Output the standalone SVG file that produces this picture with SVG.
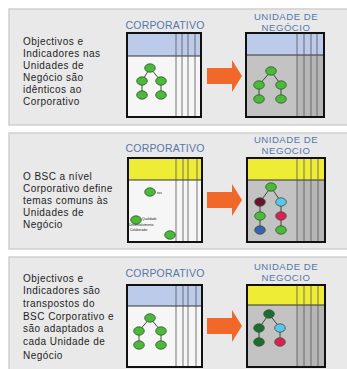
<svg xmlns="http://www.w3.org/2000/svg" width="347" height="369" viewBox="0 0 347 369">
<style>
.panel{fill:#e9e9e9;stroke:#cfcfcf;stroke-width:1.5}
.desc{font-family:"Liberation Sans",Arial,sans-serif;font-size:10px;letter-spacing:0.45px;fill:#1e1e1e}
.title{font-family:"Liberation Sans",Arial,sans-serif;font-size:10.5px;fill:#5577aa;text-anchor:middle;letter-spacing:0.2px}
.bt{font-family:"Liberation Sans",Arial,sans-serif;font-size:9.6px;fill:#5577aa;text-anchor:middle;letter-spacing:0.5px}
.box{fill:none;stroke:#111;stroke-width:2}
.col{stroke:#555;stroke-width:0.8}
.hdrline{stroke:#333;stroke-width:1}
.blue{fill:#bccbea}
.yellow{fill:#eeec34}
.corpbody{fill:#f6f6f6}
.bubody{fill:#c3c3c3}
.bucols{fill:#b6b6b6}
.edge{stroke:#333;stroke-width:0.9;fill:none}
.n{stroke:#2c5a22;stroke-width:0.8}
.g{fill:#4cb83c}
.dg{fill:#1f6b34}
.mar{fill:#6a0f36}
.lb{fill:#5cc4f2}
.cr{fill:#e21c5c}
.bl{fill:#3c5fb6}
.tiny{font-family:"Liberation Sans",Arial,sans-serif;font-size:3.2px;fill:#222}
.arrow{fill:#f0682a}
</style>
<rect width="347" height="369" fill="#ffffff"/>

<!-- Panel 1 -->
<g id="panel1">
<rect class="panel" x="9" y="9" width="345" height="116"/>
<text class="desc" x="23" y="45">Objectivos e</text>
<text class="desc" x="23" y="57">Indicadores nas</text>
<text class="desc" x="23" y="69">Unidades de</text>
<text class="desc" x="23" y="81">Negócio são</text>
<text class="desc" x="23" y="93">idênticos ao</text>
<text class="desc" x="23" y="105">Corporativo</text>
</g>
<g id="p1-corp">
<text class="title" x="165" y="29">CORPORATIVO</text>
<rect class="corpbody" x="127" y="33" width="74" height="84"/>
<rect class="blue" x="127" y="33" width="74" height="23"/>
<line class="hdrline" x1="127" y1="56" x2="201" y2="56"/>
<line class="col" x1="176" y1="33" x2="176" y2="117"/>
<line class="col" x1="182" y1="33" x2="182" y2="117"/>
<line class="col" x1="188" y1="33" x2="188" y2="117"/>
<line class="col" x1="195" y1="33" x2="195" y2="117"/>
<rect class="box" x="127" y="33" width="74" height="84"/>
</g>
<g id="p1-bu">
<text class="bt" x="286" y="19.5">UNIDADE DE</text>
<text class="bt" x="286" y="30.5">NEGÓCIO</text>
<rect class="bubody" x="246" y="33" width="78" height="84"/>
<rect class="bucols" x="297" y="33" width="27" height="84"/>
<rect class="blue" x="246" y="33" width="78" height="22"/>
<line class="hdrline" x1="246" y1="55" x2="324" y2="55"/>
<line class="col" x1="297" y1="33" x2="297" y2="117"/>
<line class="col" x1="304" y1="33" x2="304" y2="117"/>
<line class="col" x1="311" y1="33" x2="311" y2="117"/>
<line class="col" x1="317" y1="33" x2="317" y2="117"/>
<rect class="box" x="246" y="33" width="78" height="84"/>
</g>
<g id="p1-arrow"><polygon class="arrow" points="207,68 232,68 232,60 242,76 232,92 232,84 207,84"/></g>

<!-- Panel 2 -->
<g id="panel2">
<rect class="panel" x="9" y="133" width="345" height="116"/>
<text class="desc" x="23" y="180">O BSC a nível</text>
<text class="desc" x="23" y="192">Corporativo define</text>
<text class="desc" x="23" y="204">temas comuns às</text>
<text class="desc" x="23" y="216">Unidades de</text>
<text class="desc" x="23" y="228">Negócio</text>
</g>
<g id="p2-corp">
<text class="title" x="165" y="152">CORPORATIVO</text>
<rect class="corpbody" x="128" y="158" width="74" height="84"/>
<rect class="yellow" x="128" y="158" width="74" height="22"/>
<line class="hdrline" x1="128" y1="180" x2="202" y2="180"/>
<line class="col" x1="176" y1="158" x2="176" y2="242"/>
<line class="col" x1="183" y1="158" x2="183" y2="242"/>
<line class="col" x1="188" y1="158" x2="188" y2="242"/>
<line class="col" x1="197" y1="158" x2="197" y2="242"/>
<rect class="box" x="128" y="158" width="74" height="84"/>
</g>
<g id="p2-bu">
<text class="bt" x="286" y="143">UNIDADE DE</text>
<text class="bt" x="286" y="154">NEGOCIO</text>
<rect class="bubody" x="247" y="158" width="78" height="84"/>
<rect class="bucols" x="297" y="158" width="28" height="84"/>
<rect class="yellow" x="247" y="158" width="78" height="22"/>
<line class="hdrline" x1="247" y1="180" x2="325" y2="180"/>
<line class="col" x1="297" y1="158" x2="297" y2="242"/>
<line class="col" x1="304" y1="158" x2="304" y2="242"/>
<line class="col" x1="311" y1="158" x2="311" y2="242"/>
<line class="col" x1="318" y1="158" x2="318" y2="242"/>
<rect class="box" x="247" y="158" width="78" height="84"/>
</g>
<g id="p2-arrow"><polygon class="arrow" points="207,192 232,192 232,184 242,200 232,216 232,208 207,208"/></g>

<!-- Panel 3 -->
<g id="panel3">
<rect class="panel" x="9" y="257" width="345" height="120"/>
<text class="desc" x="23" y="282">Objectivos e</text>
<text class="desc" x="23" y="294">Indicadores são</text>
<text class="desc" x="23" y="307">transpostos do</text>
<text class="desc" x="23" y="320">BSC Corporativo e</text>
<text class="desc" x="23" y="332">são adaptados a</text>
<text class="desc" x="23" y="345">cada Unidade de</text>
<text class="desc" x="23" y="359">Negócio</text>
</g>
<g id="p3-corp">
<text class="title" x="165" y="277">CORPORATIVO</text>
<rect class="corpbody" x="127" y="285" width="75" height="82"/>
<rect class="blue" x="127" y="285" width="75" height="21"/>
<line class="hdrline" x1="127" y1="306" x2="202" y2="306"/>
<line class="col" x1="176" y1="285" x2="176" y2="367"/>
<line class="col" x1="183" y1="285" x2="183" y2="367"/>
<line class="col" x1="188" y1="285" x2="188" y2="367"/>
<line class="col" x1="196" y1="285" x2="196" y2="367"/>
<rect class="box" x="127" y="285" width="75" height="82"/>
</g>
<g id="p3-bu">
<text class="bt" x="286" y="270">UNIDADE DE</text>
<text class="bt" x="286" y="281">NEGOCIO</text>
<rect class="bubody" x="247" y="285" width="78" height="82"/>
<rect class="bucols" x="297" y="285" width="28" height="82"/>
<rect class="yellow" x="247" y="285" width="78" height="20"/>
<line class="hdrline" x1="247" y1="305" x2="325" y2="305"/>
<line class="col" x1="297" y1="285" x2="297" y2="367"/>
<line class="col" x1="304" y1="285" x2="304" y2="367"/>
<line class="col" x1="311" y1="285" x2="311" y2="367"/>
<line class="col" x1="318" y1="285" x2="318" y2="367"/>
<rect class="box" x="247" y="285" width="78" height="82"/>
</g>
<g id="p3-arrow"><polygon class="arrow" points="207,318 232,318 232,310 242,326 232,342 232,334 207,334"/></g>

<!-- Connectors -->
<g id="connectors">
<path class="edge" d="M150,68 L142,81 M150,68 L161,81 M142,81 V95 M161,81 V95"/>
<path class="edge" d="M271,71 L259,85 M271,71 L281,85 M259,85 V99 M281,85 V99"/>
<path class="edge" d="M271,187 L260,202 M271,187 L281,202 M260,202 V230 M281,202 V230"/>
<path class="edge" d="M150,318 L139,331 M150,318 L161,331 M139,331 V345 M161,331 V345"/>
<path class="edge" d="M269,314 L259,328 M269,314 L280,328 M259,328 V342 M280,328 V342"/>
</g>

<!-- Tree nodes -->
<g id="p1-corp-tree">
<ellipse class="n g" cx="150" cy="68" rx="5.3" ry="4.2"/>
<ellipse class="n g" cx="142" cy="81" rx="5.3" ry="4.2"/>
<ellipse class="n g" cx="161" cy="81" rx="5.3" ry="4.2"/>
<ellipse class="n g" cx="142" cy="95" rx="5.3" ry="4.2"/>
<ellipse class="n g" cx="161" cy="95" rx="5.3" ry="4.2"/>
</g>
<g id="p1-bu-tree">
<ellipse class="n g" cx="271" cy="71" rx="5.3" ry="4.2"/>
<ellipse class="n g" cx="259" cy="85" rx="5.3" ry="4.2"/>
<ellipse class="n g" cx="281" cy="85" rx="5.3" ry="4.2"/>
<ellipse class="n g" cx="259" cy="99" rx="5.3" ry="4.2"/>
<ellipse class="n g" cx="281" cy="99" rx="5.3" ry="4.2"/>
</g>
<g id="p2-corp-themes">
<ellipse class="n g" cx="150" cy="192" rx="5.3" ry="4.2"/>
<text class="tiny" x="157" y="193.5">xxx</text>
<ellipse class="n g" cx="136" cy="220" rx="5.3" ry="4.2"/>
<text class="tiny" x="142" y="220">Qualidade</text>
<text class="tiny" x="129" y="226">Desenvolvimento</text>
<text class="tiny" x="130" y="231">Colaborador</text>
<ellipse class="n g" cx="170" cy="235" rx="5.3" ry="4.2"/>
</g>
<g id="p2-bu-tree">
<ellipse class="n g" cx="271" cy="187" rx="5.3" ry="4.2"/>
<ellipse class="n mar" cx="260" cy="202" rx="5.3" ry="4.2"/>
<ellipse class="n lb" cx="281" cy="202" rx="5.3" ry="4.2"/>
<ellipse class="n g" cx="260" cy="216" rx="5.3" ry="4.2"/>
<ellipse class="n cr" cx="281" cy="216" rx="5.3" ry="4.2"/>
<ellipse class="n bl" cx="260" cy="230" rx="5.3" ry="4.2"/>
<ellipse class="n g" cx="281" cy="230" rx="5.3" ry="4.2"/>
</g>
<g id="p3-corp-tree">
<ellipse class="n g" cx="150" cy="318" rx="5.3" ry="4.2"/>
<ellipse class="n g" cx="139" cy="331" rx="5.3" ry="4.2"/>
<ellipse class="n g" cx="161" cy="331" rx="5.3" ry="4.2"/>
<ellipse class="n g" cx="139" cy="345" rx="5.3" ry="4.2"/>
<ellipse class="n g" cx="161" cy="345" rx="5.3" ry="4.2"/>
</g>
<g id="p3-bu-tree">
<ellipse class="n dg" cx="269" cy="314" rx="5.3" ry="4.2"/>
<ellipse class="n dg" cx="259" cy="328" rx="5.3" ry="4.2"/>
<ellipse class="n lb" cx="280" cy="328" rx="5.3" ry="4.2"/>
<ellipse class="n dg" cx="259" cy="342" rx="5.3" ry="4.2"/>
<ellipse class="n cr" cx="280" cy="342" rx="5.3" ry="4.2"/>
</g>
</svg>
